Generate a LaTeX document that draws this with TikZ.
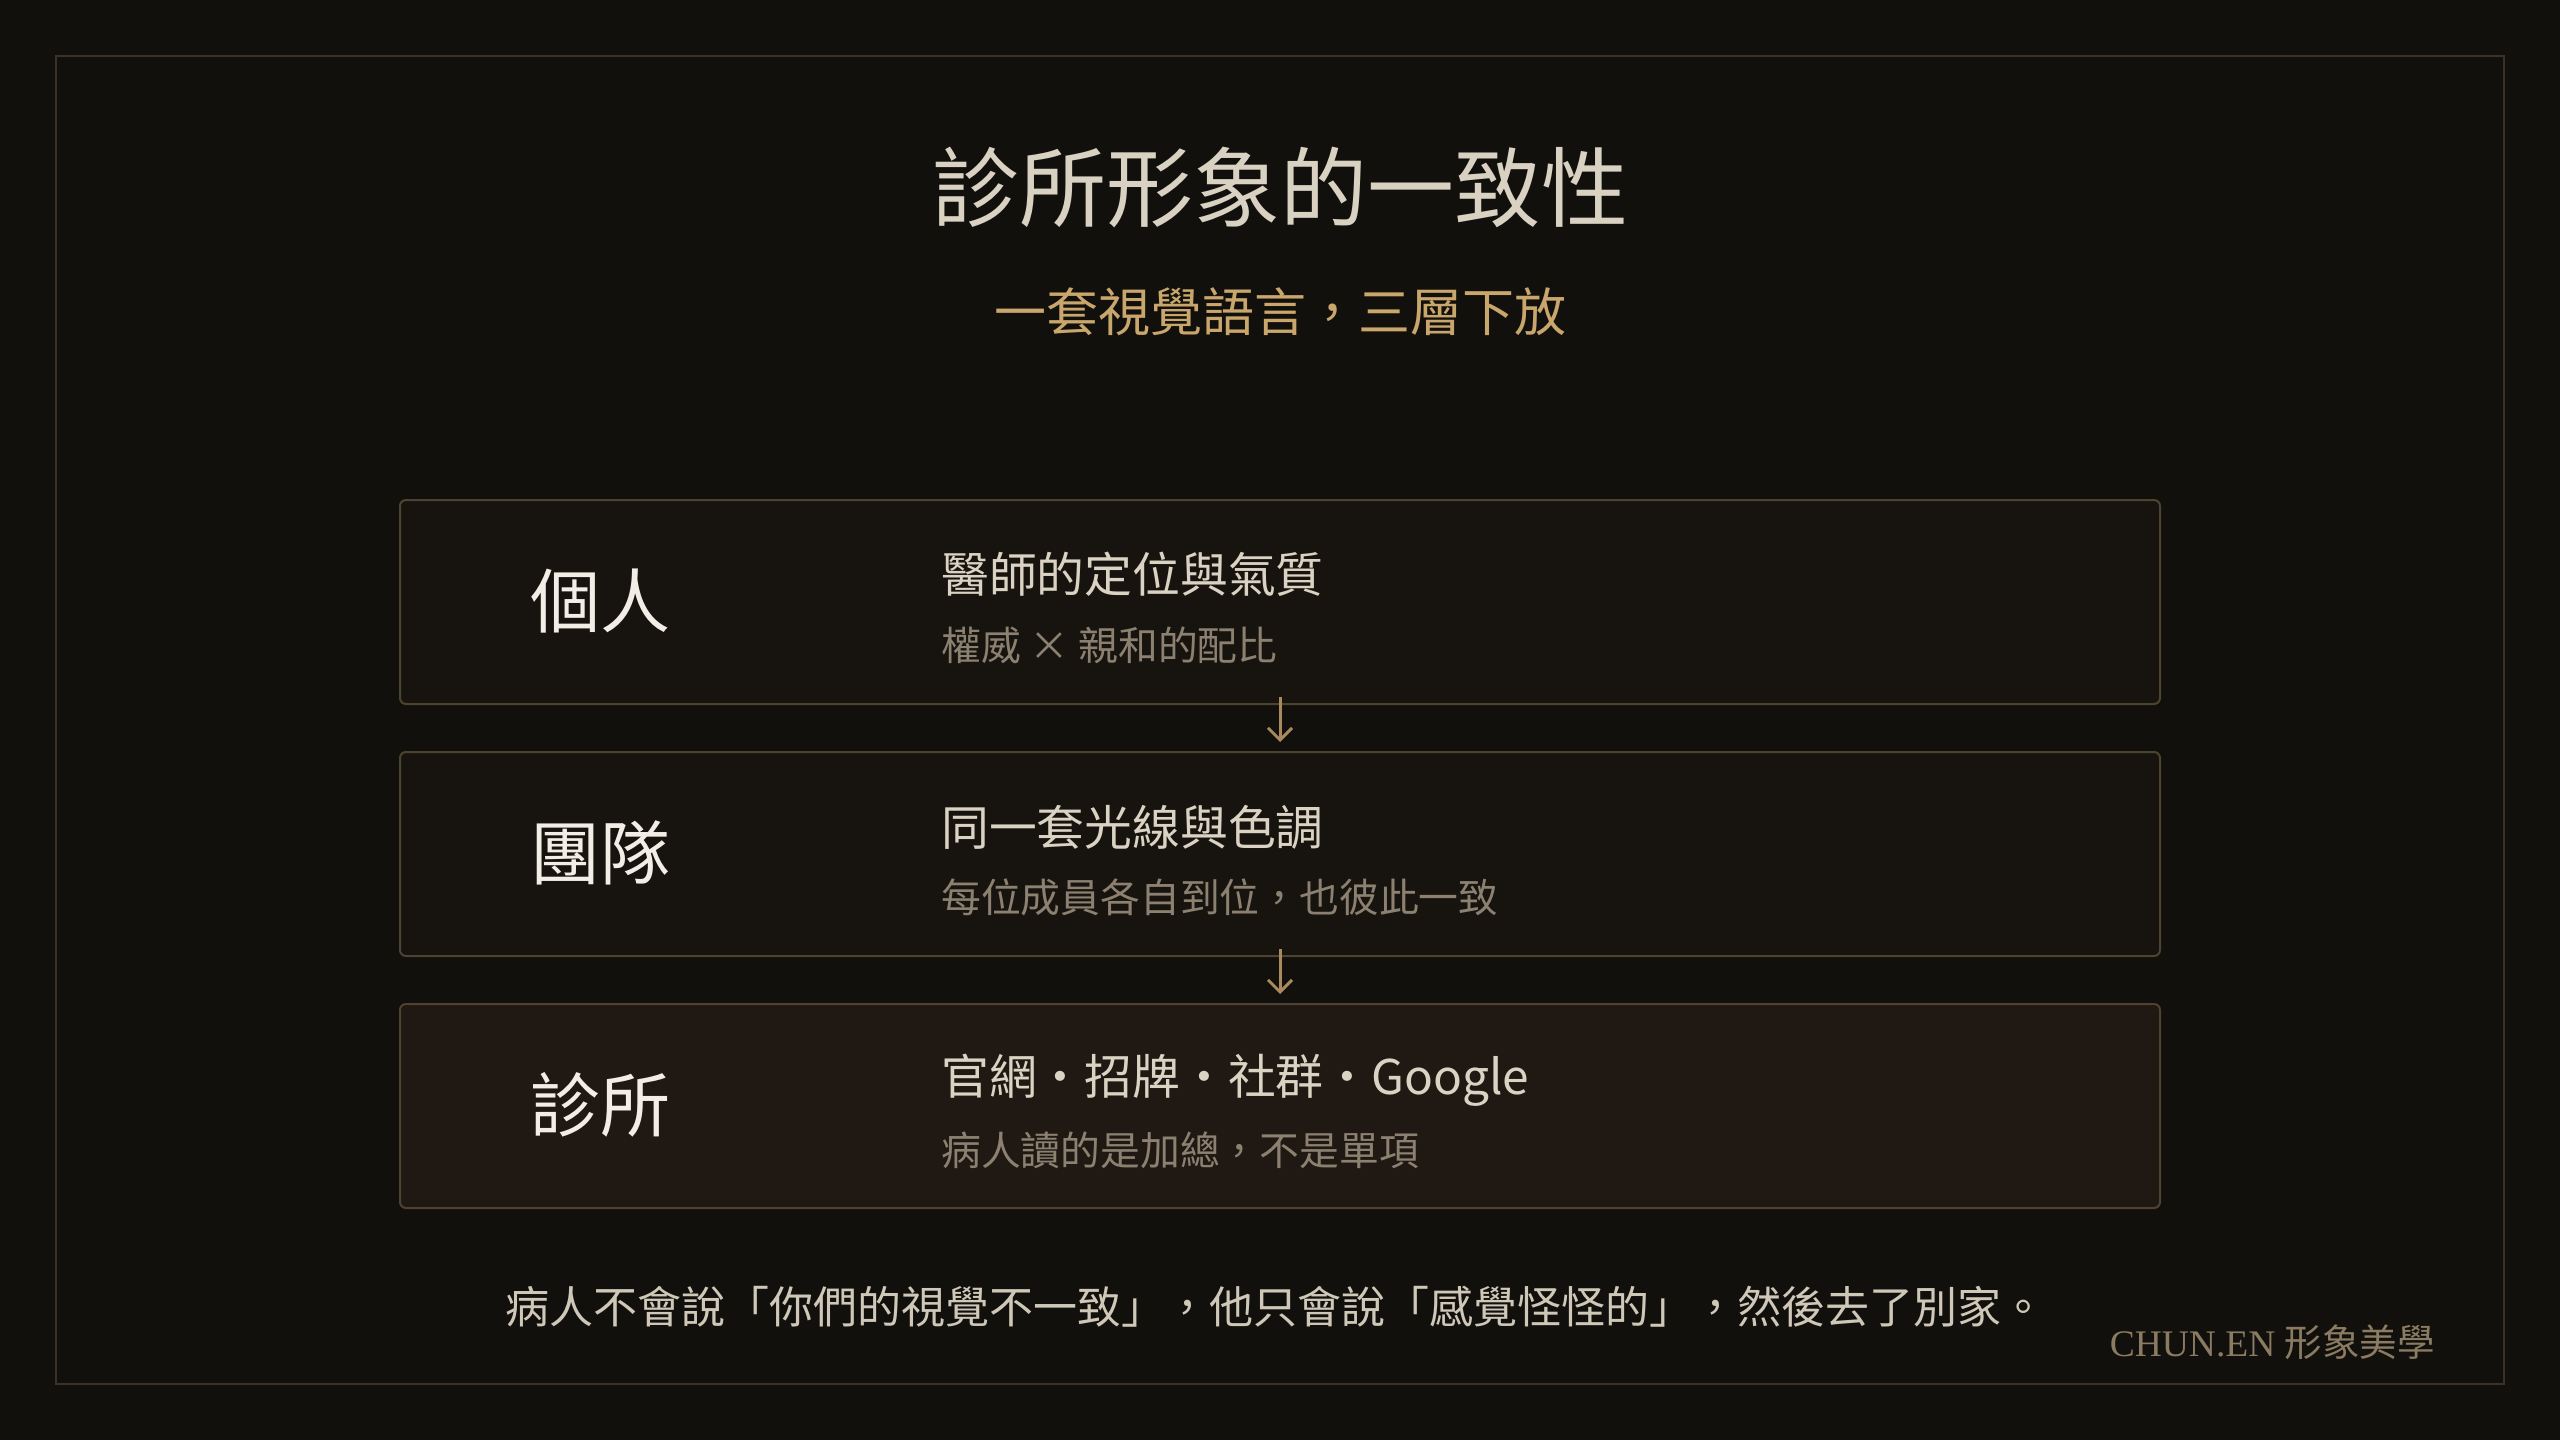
\documentclass[tikz,border=0pt]{standalone}
\usepackage{fontspec}
\newfontfamily\cjk{Noto Sans CJK TC}
\newfontfamily\serifl{Liberation Serif}
\usetikzlibrary{arrows.meta}
\definecolor{bgc}{HTML}{12100C}
\definecolor{framec}{HTML}{3A3225}
\definecolor{boxline}{HTML}{4E4230}
\definecolor{boxfill}{HTML}{17140F}
\definecolor{boxfillb}{HTML}{201812}
\definecolor{titlec}{HTML}{D9D1C2}
\definecolor{goldc}{HTML}{C9A66B}
\definecolor{labelc}{HTML}{F2EEE6}
\definecolor{mainc}{HTML}{DAD2C3}
\definecolor{subc}{HTML}{8C8171}
\definecolor{quotec}{HTML}{CFC8B9}
\definecolor{footc}{HTML}{8A7B62}
\definecolor{arrc}{HTML}{A88A5C}
\tikzset{
  panel/.style={draw=boxline, line width=2pt, rounded corners=6pt, fill=boxfill,
    minimum width=1760pt, minimum height=204pt, inner sep=0pt},
  labeltxt/.style={text=labelc, font=\cjk\fontsize{70pt}{84pt}\selectfont, inner sep=0pt},
  maintxt/.style={text=mainc, font=\cjk\fontsize{47.8pt}{56pt}\selectfont, inner sep=0pt, anchor=west},
  subtxt/.style={text=subc, font=\cjk\fontsize{39.8pt}{48pt}\selectfont, inner sep=0pt, anchor=west},
  flowarrow/.style={draw=arrc, line width=3pt, -{Straight Barb[length=12pt,width=24pt,line width=3pt]},
    shorten <=-8pt, shorten >=9pt}
}
\begin{document}
\begin{tikzpicture}[x=1pt,y=-1pt]
\useasboundingbox (0,0) rectangle (2560,1440);
\fill[bgc] (0,0) rectangle (2560,1440);
\draw[framec, line width=2pt] (56,56) rectangle (2504,1384);

\node[text=titlec, font=\cjk\fontsize{87pt}{100pt}\selectfont, inner sep=0pt] (title) at (1280,188) {診所形象的一致性};
\node[text=goldc, font=\cjk\fontsize{52pt}{62pt}\selectfont, inner sep=0pt] (subtitle) at (1280,312) {一套視覺語言，三層下放};

\node[panel] (b1) at (1280,602) {};
\node[panel] (b2) at (1280,854) {};
\node[panel, fill=boxfillb] (b3) at (1280,1106) {};

\node[labeltxt] (l1) at (600,601) {個人};
\node[labeltxt] (l2) at (600,853) {團隊};
\node[labeltxt] (l3) at (600,1105) {診所};

\node[maintxt] (m1) at (941,574) {醫師的定位與氣質};
\node[subtxt] (s1) at (941,645) {權威 × 親和的配比};
\node[maintxt] (m2) at (941,827) {同一套光線與色調};
\node[subtxt] (s2) at (941,897) {每位成員各自到位，也彼此一致};
\node[maintxt] (m3) at (941,1080) {官網・招牌・社群・Google};
\node[subtxt] (s3) at (941,1150) {病人讀的是加總，不是單項};

\draw[flowarrow] (b1.south) -- (b2.north);
\draw[flowarrow] (b2.south) -- (b3.north);

\node[text=quotec, font=\cjk\fontsize{44pt}{52pt}\selectfont, inner sep=0pt] (quote) at (1275,1307) {病人不會說「你們的視覺不一致」，他只會說「感覺怪怪的」，然後去了別家。};
\node[text=footc, font=\fontsize{37.5pt}{44pt}\selectfont, inner sep=0pt, anchor=east] (foot) at (2435,1342) {\serifl CHUN.EN \cjk 形象美學};
\end{tikzpicture}
\end{document}
